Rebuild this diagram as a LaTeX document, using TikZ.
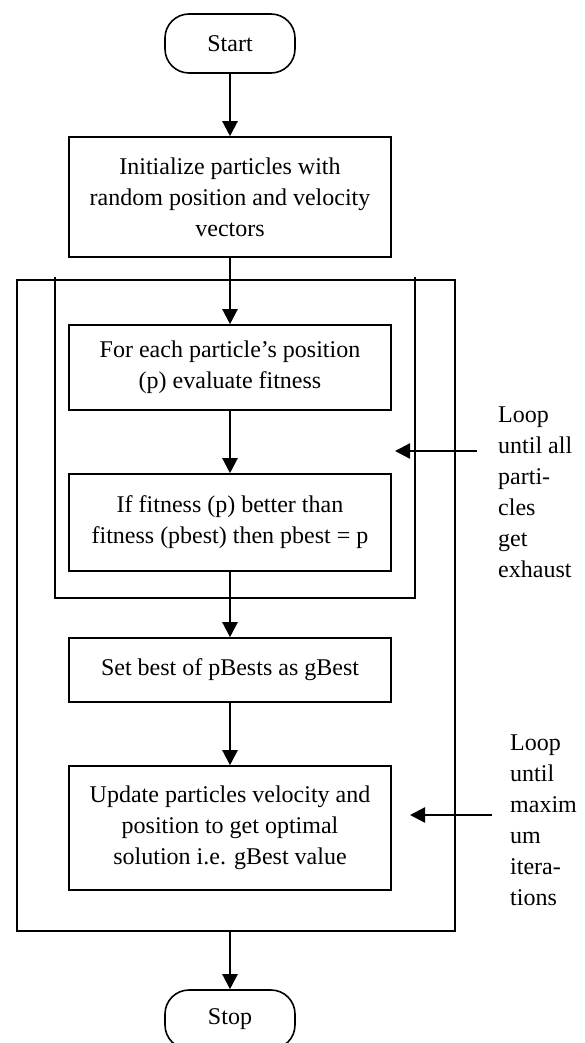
\documentclass[tikz,border=0pt]{standalone}
\usepackage{fontspec}
\setmainfont{Liberation Serif}
\usetikzlibrary{arrows.meta}

\begin{document}
\begin{tikzpicture}[x=1pt, y=-1pt,
        every node/.style={font=\fontsize{24}{31}\selectfont},
        term/.style={draw, line width=1.6pt, rounded corners=24pt,
            minimum width=130pt, minimum height=59pt, inner sep=4pt},
        proc/.style={draw, line width=1.6pt, minimum width=322pt,
            align=center, inner sep=4pt},
        note/.style={anchor=north west, align=left, inner sep=0pt},
        flow/.style={-{Triangle[length=15pt, width=15pt]}, line width=2.3pt},
        frame/.style={line width=1.3pt}]
        \useasboundingbox (0,0) rectangle (585,1043);

        % Terminals
        \node[term] (start) at (230,43.5) {Start};
        \node[term] (stop) at (230,1019.5) {Stop};

        % Process boxes
        \node[proc, minimum height=120pt] (init) at (230,197)
            {Initialize particles with\\random position and velocity\\vectors};
        \node[proc, minimum height=85pt] (each) at (230,367.5)
            {For each particle's position\\(p) evaluate fitness};
        \node[proc, minimum height=97pt] (better) at (230,522.5)
            {If fitness (p) better than\\fitness (pbest) then pbest = p};
        \node[proc, minimum height=64pt] (gbest) at (230,670)
            {Set best of pBests as gBest};
        \node[proc, minimum height=124pt] (update) at (230,828)
            {Update particles velocity and\\position to get optimal\\solution i.e. gBest value};

        % Loop frames
        \draw[frame] (17,280) rectangle (455,931);
        \draw[frame, line width=1.7pt] (55,277) -- (55,598) -- (415,598) -- (415,277);

        % Loop notes
        \node[note] (noteA) at (498,407) {Loop\\until all\\parti-\\cles\\get\\exhaust};
        \node[note] (noteB) at (510,735) {Loop\\until\\maxim\\um\\itera-\\tions};

        % Connect the steps
        \draw[flow] (start) -- (init);
        \draw[flow] (init) -- (each);
        \draw[flow] (each) -- (better);
        \draw[flow] (better) -- (gbest);
        \draw[flow] (gbest) -- (update);
        \coordinate (outbot) at (230,931);
        \draw[flow] (outbot) -- (stop);

        % Loop arrows
        \coordinate (innerin) at (477,451);
        \coordinate (innertip) at (395,451);
        \draw[flow] (innerin) -- (innertip);
        \coordinate (outerin) at (492,815);
        \coordinate (outertip) at (410,815);
        \draw[flow] (outerin) -- (outertip);
    \end{tikzpicture}
\end{document}
